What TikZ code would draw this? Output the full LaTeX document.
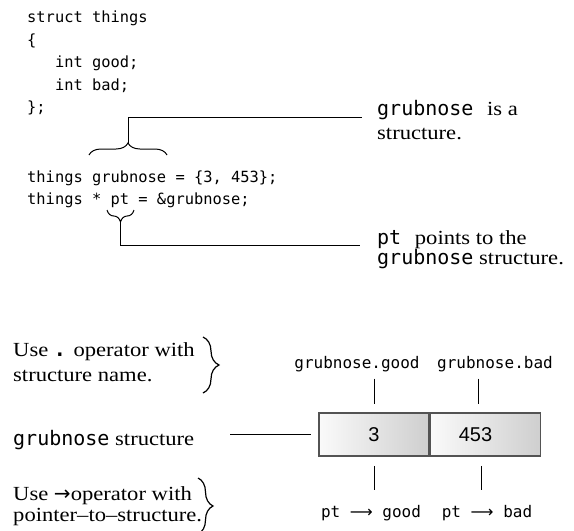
\documentclass[tikz,border=0pt]{standalone}
\usepackage{fontspec}
\setmainfont{Liberation Serif}[FakeStretch=1.13]
\newfontfamily\codefont{DejaVu Sans Mono}
\newfontfamily\digitfont{Liberation Sans}
\newfontfamily\arrowfont{DejaVu Sans}
\usetikzlibrary{decorations.pathreplacing,positioning}

% mono words inside the prose
\newcommand{\cw}[1]{{\codefont #1}}

\tikzset{
  codeline/.style={anchor=base west, inner sep=0pt, font=\codefont\fontsize{15.4}{18}\selectfont},
  prose/.style={anchor=base west, inner sep=0pt, font=\fontsize{20}{24}\selectfont},
  member/.style={anchor=base, inner sep=0pt, font=\codefont\fontsize{16}{19}\selectfont},
  cell/.style={draw=gray!65!black, line width=1.5pt, minimum width=110pt, minimum height=43pt,
    left color=gray!4, right color=gray!38, inner sep=0pt, font=\digitfont\fontsize{20}{24}\selectfont},
  lead/.style={line width=0.8pt},
  curly/.style={decorate, decoration={brace, amplitude=#1}, line width=1pt},
  curly/.default=12pt,
}

\begin{document}
\begin{tikzpicture}[x=1pt,y=-1pt]
  \useasboundingbox (0,0) rectangle (574,531);

  % the declarations
  \node[codeline] (c1) at (27,22.7) {struct things};
  \node[codeline] (c2) at (27,45) {\{};
  \node[codeline] (c3) at (27,67.5) {\hphantom{int}int good;};
  \node[codeline] (c4) at (27,90) {\hphantom{int}int bad;};
  \node[codeline] (c5) at (27,112.4) {\};};
  \node[codeline] (c6) at (27,182) {things grubnose = \{3, 453\};};
  \node[codeline] (c7) at (27,204) {things * pt = \&grubnose;};

  % notes on the right
  \node[prose] (isA) at (377,115) {\cw{grubnose}\hspace{8pt} is a};
  \node[prose] (isB) at (377,139) {structure.};
  \node[prose] (ptA) at (377,244) {\cw{pt}\hspace{8pt} points to the};
  \node[prose] (ptB) at (377,264) {\cw{grubnose} structure.};

  % braces and leaders
  \draw[curly] (89,155) -- (167,155);
  \coordinate (gtip) at (128,143);
  \draw[lead] (gtip) |- ([xshift=-15pt,yshift=-2pt]isA.base west);
  \draw[curly] (134,210) -- (107,210);
  \coordinate (ptip) at (120.5,222);
  \draw[lead] (ptip) |- ([xshift=-17pt,yshift=-1pt]ptA.base west);

  % left column
  \node[prose] (use1) at (13,356) {Use {\codefont\bfseries .} operator with};
  \node[prose] (use2) at (13,381) {structure name.};
  \node[prose] (gsn) at (13,445) {\cw{grubnose} structure};
  \node[prose] (use3) at (13,500) {Use {\arrowfont →}operator with};
  \node[prose] (use4) at (13,521) {pointer–to–structure.};
  \draw[curly=16pt, line width=1.2pt] (203,337) -- (203,393);
  \draw[curly=15pt, line width=1.2pt] (198,478) -- (198,534);

  % the structure in memory
  \node[cell] (cellgood) at (374,434.5) {3};
  \node[cell, right=0pt of cellgood] (cellbad) {453\hspace*{20pt}};
  \draw[lead, shorten <=36pt, shorten >=7pt] (gsn.east |- cellgood.west) -- (cellgood.west);

  \node[member] (lblgood) at (357,368) {grubnose.good};
  \node[member] (lblbad) at (495,368) {grubnose.bad};
  \node[member] (ptgood) at (371,517) {pt {\arrowfont ⟶} good};
  \node[member] (ptbad) at (487,517) {pt {\arrowfont ⟶} bad};

  \draw[lead, shorten <=7pt, shorten >=8pt] (cellgood.north |- lblgood.south) -- (cellgood.north);
  \draw[lead, shorten <=7pt, shorten >=8pt] ([xshift=-7pt]cellbad.north |- lblbad.south) -- ([xshift=-7pt]cellbad.north);
  \draw[lead, shorten <=9pt, shorten >=15pt] (cellgood.south) -- (cellgood.south |- ptgood.north);
  \draw[lead, shorten <=9pt, shorten >=15pt] ([xshift=-4pt]cellbad.south) -- ([xshift=-4pt]cellbad.south |- ptbad.north);
\end{tikzpicture}
\end{document}
